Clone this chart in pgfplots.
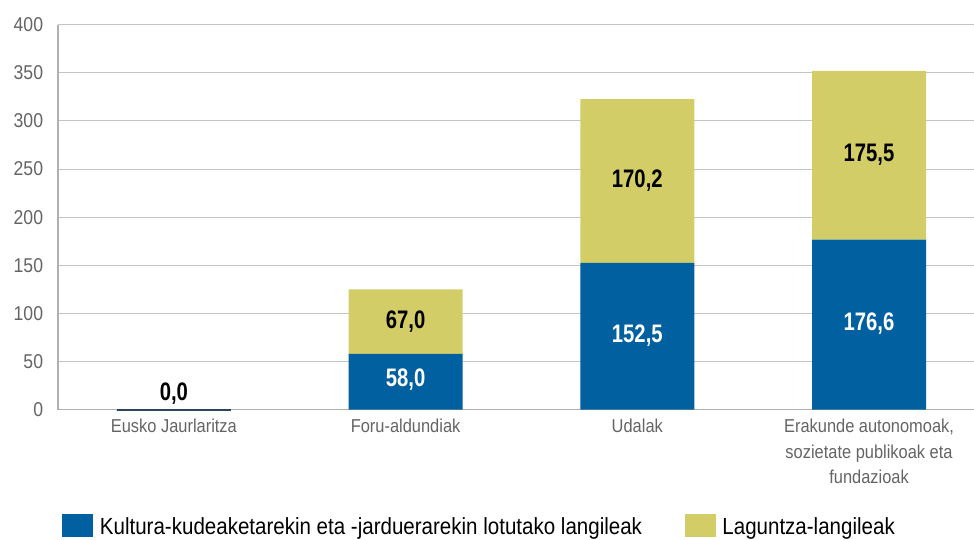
\documentclass[border=0pt]{standalone}
\usepackage{pgfplots}
\pgfplotsset{compat=1.18}
\usepackage{fontspec}
\setmainfont{Liberation Sans}[FakeStretch=0.88, BoldFeatures={FakeStretch=0.8}]
\definecolor{bluebar}{RGB}{0,96,160}
\definecolor{yellowbar}{RGB}{211,205,104}
\definecolor{gridgray}{RGB}{196,196,196}
\definecolor{axisgray}{RGB}{176,176,176}
\definecolor{ticktext}{RGB}{100,100,100}
\definecolor{zeroline}{RGB}{45,70,92}
\begin{document}
\begin{tikzpicture}
\begin{axis}[
  name=ax,
  scale only axis, width=687pt, height=288.75pt,
  ybar stacked, bar width=85.5pt,
  xmin=-0.5, xmax=3.453, ymin=0, ymax=400,
  clip=false,
  ytick={0,50,...,400},
  xtick={0,1,2,3},
  xticklabels={Eusko Jaurlaritza,Foru-aldundiak,Udalak,{Erakunde autonomoak,\\sozietate publikoak eta\\fundazioak}},
  axis x line*=bottom, axis y line*=left,
  axis line style={axisgray, line width=1.2pt},
  ymajorgrids, grid style={gridgray, line width=0.8pt},
  major tick length=0pt,
  /pgf/number format/assume math mode=true,
  xticklabel style={font=\fontsize{14}{19}\selectfont, text=ticktext, inner sep=0pt, yshift=-7pt, align=center},
  yticklabel style={font=\fontsize{15}{19}\selectfont, text=ticktext, inner sep=0pt, xshift=-11pt},
  legend style={at={(axis description cs:0,0)}, anchor=north west, xshift=3pt, yshift=-78.1pt,
    draw=none, fill=none, inner sep=0pt, font=\fontsize{17.5}{20}\selectfont, text=black,
    /tikz/every even column/.append style={column sep=30pt}},
  legend columns=2,
  legend cell align=left,
  legend image code/.code={\path[#1] (0pt,-7.5pt) rectangle (23.25pt,9.75pt);},
]
\addplot[draw=none, fill=bluebar] coordinates {(0,0) (1,58.0) (2,152.5) (3,176.6)};
\addplot[draw=none, fill=yellowbar] coordinates {(0,0) (1,67.0) (2,170.2) (3,175.5)};
\legend{\hspace{3pt}Kultura-kudeaketarekin eta -jarduerarekin lotutako langileak, \hspace{3pt}Laguntza-langileak}
\coordinate (l0) at (axis cs:0,16.6);
\coordinate (l1) at (axis cs:1,31);
\coordinate (l2) at (axis cs:1,91.5);
\coordinate (l3) at (axis cs:2,77);
\coordinate (l4) at (axis cs:2,237.6);
\coordinate (l5) at (axis cs:3,89);
\coordinate (l6) at (axis cs:3,264.4);
\end{axis}
\begin{axis}[
  scale only axis, width=687pt, height=288.75pt,
  ybar, bar width=85.5pt,
  xmin=-0.5, xmax=3.453, ymin=0, ymax=400,
  clip=false, hide axis,
]
\addplot[draw=zeroline, line width=1.4pt, fill=zeroline] coordinates {(0,0)};
\end{axis}
\begin{scope}[every node/.style={font=\bfseries\fontsize{19}{19}\selectfont}]
\node[text=black] at (l0) {0,0};
\node[text=white] at (l1) {58,0};
\node[text=black] at (l2) {67,0};
\node[text=white] at (l3) {152,5};
\node[text=black] at (l4) {170,2};
\node[text=white] at (l5) {176,6};
\node[text=black] at (l6) {175,5};
\end{scope}
\pgfresetboundingbox
\path[use as bounding box] ([xshift=-43.5pt, yshift=-97.7pt]ax.south west) rectangle ([yshift=18.5pt]ax.north east);
\end{tikzpicture}
\end{document}
